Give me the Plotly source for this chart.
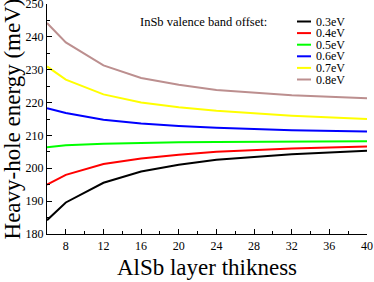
import plotly.graph_objects as go

thickness = [6, 8, 12, 16, 20, 24, 32, 40]
names = ["0.3eV", "0.4eV", "0.5eV", "0.6eV", "0.7eV", "0.8eV"]
colors = ["#000000", "#ff0000", "#00ff00", "#0000ff", "#ffff00", "#bc8f8f"]
e03 = [184.2, 189.6, 195.6, 199.0, 201.1, 202.6, 204.3, 205.3]
e04 = [195.0, 198.0, 201.3, 203.0, 204.1, 205.0, 206.0, 206.6]
e05 = [206.4, 207.0, 207.5, 207.8, 207.9, 208.0, 208.1, 208.2]
e06 = [218.3, 216.8, 214.8, 213.6, 212.9, 212.3, 211.6, 211.2]
e07 = [231.0, 227.0, 222.5, 220.0, 218.6, 217.5, 216.0, 215.0]
e08 = [244.2, 238.3, 231.3, 227.5, 225.4, 223.8, 222.2, 221.3]
series = [e03, e04, e05, e06, e07, e08]

xtick_vals = [8, 12, 16, 20, 24, 28, 32, 36, 40]
ytick_vals = [180, 190, 200, 210, 220, 230, 240, 250]

font = "'Liberation Serif', 'Times New Roman', 'DejaVu Serif', serif"
fig = go.Figure()
for n, c, s in zip(names, colors, series):
    fig.add_trace(go.Scatter(x=thickness, y=s, mode="lines", name=n,
                             line=dict(color=c, width=2), showlegend=False))

common = dict(ticks="inside", ticklen=5, tickwidth=1, showgrid=False, zeroline=False,
              showline=True, linewidth=1.2, automargin=False)
fig.update_layout(
    width=374, height=282,
    margin=dict(l=47, r=7, t=4, b=48),
    plot_bgcolor="white", paper_bgcolor="white",
    font=dict(family=font, size=12, color="black"),
    xaxis=dict(range=[6, 40], tickvals=xtick_vals, linecolor="black", tickcolor="black",
               minor=dict(dtick=2, tick0=6, ticks="inside", ticklen=3, tickcolor="black"),
               title=dict(text="AlSb layer thikness", font=dict(size=23, family=font), standoff=7),
               tickfont=dict(size=12, family=font), ticklabeloverflow="allow", **common),
    yaxis=dict(range=[180, 250], tickvals=ytick_vals, linecolor="black", tickcolor="black",
               minor=dict(dtick=5, tick0=180, ticks="inside", ticklen=3, tickcolor="black"),
               title=dict(text="Heavy-hole energy (meV)", font=dict(size=23, family=font), standoff=2),
               tickfont=dict(size=12, family=font), ticklabeloverflow="allow", **common),
    xaxis2=dict(range=[6, 40], overlaying="x", side="top", anchor="y2", tickvals=xtick_vals,
                showticklabels=False, linecolor="#888888", tickcolor="#555555",
                minor=dict(dtick=2, tick0=6, ticks="inside", ticklen=3, tickcolor="#555555"),
                **common),
    yaxis2=dict(range=[180, 250], overlaying="y", side="right", anchor="x2", tickvals=ytick_vals,
                showticklabels=False, linecolor="#888888", tickcolor="#555555",
                minor=dict(dtick=5, tick0=180, ticks="inside", ticklen=3, tickcolor="#555555"),
                **common),
)

# legend
fig.add_annotation(text="InSb valence band offset:", xref="paper", yref="paper",
                   x=(138 - 47) / 320, y=(234 - 22) / 230, xanchor="left", yanchor="middle",
                   showarrow=False, font=dict(size=12.5, family=font))
for i, (n, c) in enumerate(zip(names, colors)):
    ypx = 21.5 + 11.6 * i
    yp = (234 - ypx) / 230
    fig.add_shape(type="line", xref="paper", yref="paper",
                  x0=(297 - 47) / 320, x1=(311 - 47) / 320, y0=yp, y1=yp,
                  line=dict(color=c, width=2))
    fig.add_annotation(text=n, xref="paper", yref="paper", x=(314 - 47) / 320, y=yp,
                       xanchor="left", yanchor="middle", showarrow=False,
                       font=dict(size=12, family=font))

fig.write_html("out.html", config={"displayModeBar": False},
               post_script="document.body.style.margin='0';")
